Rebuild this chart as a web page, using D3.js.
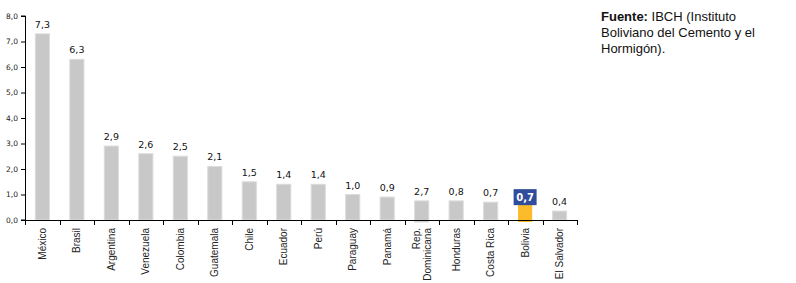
<!DOCTYPE html>
<html>
<head>
<meta charset="utf-8">
<script src="https://cdn.jsdelivr.net/npm/d3@7"></script>
<style>
  body { margin: 0; background: #fff; overflow: hidden; }
  svg { display: block; }
</style>
</head>
<body>
<div id="chart"></div>
<script>
const countries = ["México", "Brasil", "Argentina", "Venezuela", "Colombia", "Guatemala", "Chile", "Ecuador",
  "Perú", "Paraguay", "Panamá", "Rep.|Dominicana", "Honduras", "Costa Rica", "Bolivia", "El Salvador"];
const values = [7.3, 6.3, 2.9, 2.6, 2.5, 2.1, 1.5, 1.4, 1.4, 1.0, 0.9, 0.75, 0.75, 0.7, 0.6, 0.35];
const valueLabels = ["7,3", "6,3", "2,9", "2,6", "2,5", "2,1", "1,5", "1,4", "1,4", "1,0", "0,9", "2,7", "0,8", "0,7", "0,7", "0,4"];
const yTicks = [0, 1, 2, 3, 4, 5, 6, 7, 8];
const highlight = "Bolivia";

const width = 796, height = 283;
const margin = {top: 16, left: 25, right: 219, bottom: 63};
const innerWidth = width - margin.left - margin.right;
const innerHeight = height - margin.top - margin.bottom;

const svg = d3.select("#chart").append("svg")
  .attr("width", width)
  .attr("height", height);

const g = svg.append("g")
  .attr("transform", `translate(${margin.left}, ${margin.top})`);

const xScale = d3.scaleBand()
  .domain(countries)
  .range([0, innerWidth])
  .paddingInner(0.59)
  .paddingOuter(0.3);

const yScale = d3.scaleLinear()
  .domain([0, 8])
  .range([innerHeight, 0]);

// y axis
const yAxis = d3.axisLeft(yScale)
  .tickValues(yTicks)
  .tickSize(4)
  .tickPadding(3)
  .tickFormat(d => d3.format(".1f")(d).replace(".", ","));

const yAxisG = g.append("g").call(yAxis);
yAxisG.select(".domain").attr("stroke", "#000").attr("d", `M-4,0H0.5V${innerHeight}H-4`);
yAxisG.selectAll("text")
  .attr("font-family", "DejaVu Sans, Verdana, sans-serif")
  .attr("font-size", 7.5)
  .attr("fill", "#222");

// bars
g.selectAll("rect.bar").data(countries)
  .enter().append("rect")
  .attr("class", "bar")
  .attr("x", d => xScale(d))
  .attr("y", (d, i) => yScale(values[i]))
  .attr("width", xScale.bandwidth())
  .attr("height", (d, i) => innerHeight - yScale(values[i]) + (d === highlight || d === "Rep.|Dominicana" ? 2 : 0))
  .attr("fill", d => d === highlight ? "#fbbb2a" : "#c8c8c8")
  .attr("stroke", d => d === highlight ? "none" : "#dcdcdc")
  .attr("stroke-width", 1);

// x axis with ticks at band boundaries
g.append("line")
  .attr("x1", 0).attr("x2", innerWidth)
  .attr("y1", innerHeight + 0.5).attr("y2", innerHeight + 0.5)
  .attr("stroke", "#000");
g.selectAll("line.xtick").data(d3.range(countries.length + 1))
  .enter().append("line")
  .attr("class", "xtick")
  .attr("x1", i => Math.round(i * innerWidth / countries.length) + 0.5)
  .attr("x2", i => Math.round(i * innerWidth / countries.length) + 0.5)
  .attr("y1", innerHeight)
  .attr("y2", innerHeight + 5)
  .attr("stroke", "#000");

// category labels (rotated)
const catG = g.selectAll("g.cat").data(countries)
  .enter().append("g")
  .attr("class", "cat")
  .attr("transform", d => `translate(${xScale(d) + xScale.bandwidth() / 2}, ${innerHeight + 8}) rotate(-90)`);

catG.each(function(d) {
  const parts = d.split("|");
  const t = d3.select(this).append("text")
    .attr("text-anchor", "end")
    .attr("font-family", "Liberation Sans, Arial, sans-serif")
    .attr("font-size", 10)
    .attr("fill", "#222");
  parts.forEach((p, k) => {
    t.append("tspan")
      .attr("x", 0)
      .attr("dy", k === 0 ? (parts.length > 1 ? -2 : 3.5) : 11)
      .text(p);
  });
});

// highlight box behind Bolivia's label
g.append("rect")
  .attr("x", xScale(highlight) + xScale.bandwidth() / 2 - 11.5)
  .attr("y", yScale(0.7) - 13)
  .attr("width", 23)
  .attr("height", 16)
  .attr("fill", "#2f4d9c");

// value labels
g.selectAll("text.val").data(countries)
  .enter().append("text")
  .attr("class", "val")
  .attr("x", d => xScale(d) + xScale.bandwidth() / 2)
  .attr("y", (d, i) => d === highlight ? yScale(0.7) - 1 : yScale(values[i]) - 6)
  .attr("text-anchor", "middle")
  .attr("font-family", "DejaVu Sans, Verdana, sans-serif")
  .attr("font-size", d => d === highlight ? 10 : 9.5)
  .attr("font-weight", d => d === highlight ? "bold" : "normal")
  .attr("fill", d => d === highlight ? "#fff" : "#111")
  .text((d, i) => valueLabels[i]);

// source note
const note = svg.append("text")
  .attr("x", 601)
  .attr("y", 21)
  .attr("font-family", "Liberation Sans, Arial, sans-serif")
  .attr("font-size", 13)
  .attr("fill", "#111");
note.append("tspan").attr("x", 601).attr("font-weight", "bold").text("Fuente: ");
note.append("tspan").text("IBCH (Instituto");
note.append("tspan").attr("x", 601).attr("dy", 16).text("Boliviano del Cemento y el");
note.append("tspan").attr("x", 601).attr("dy", 16).text("Hormigón).");
</script>
</body>
</html>
